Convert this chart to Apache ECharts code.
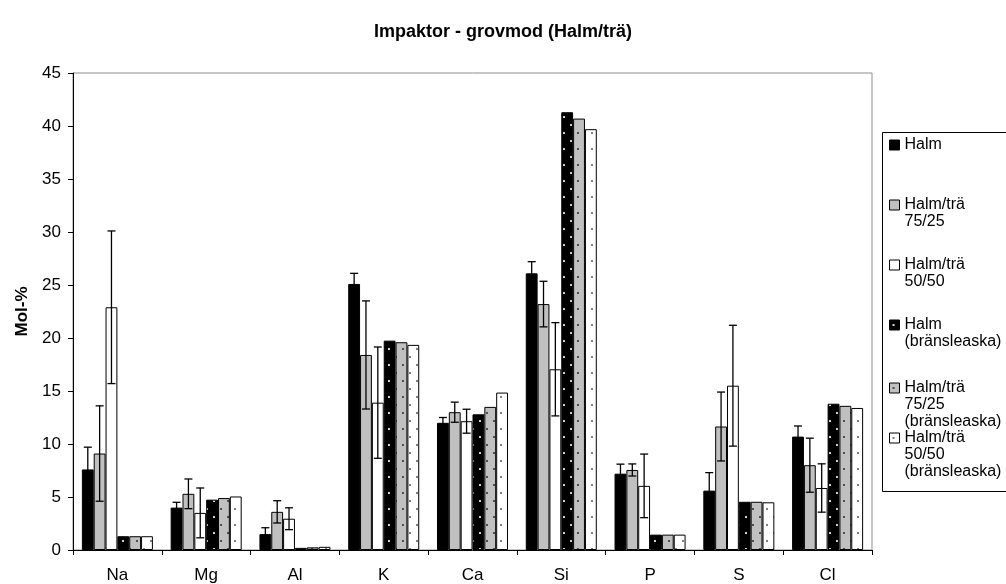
<!DOCTYPE html>
<html>
<head>
<meta charset="utf-8">
<script src="https://cdn.jsdelivr.net/npm/echarts@6/dist/echarts.min.js"></script>
<style>
html,body{margin:0;padding:0;background:#fff;}
#main{width:1006px;height:584px;}
</style>
</head>
<body>
<div id="main"></div>
<script>
// ---- data ----
var categories = ['Na', 'Mg', 'Al', 'K', 'Ca', 'Si', 'P', 'S', 'Cl'];
var seriesNames = ['Halm', 'Halm/trä\n75/25', 'Halm/trä\n50/50', 'Halm\n(bränsleaska)', 'Halm/trä\n75/25\n(bränsleaska)', 'Halm/trä\n50/50\n(bränsleaska)'];
var halm       = [7.6, 4.0, 1.5, 25.1, 12.0, 26.1, 7.2, 5.6, 10.7];
var halmErr    = [2.1, 0.5, 0.6, 1.0, 0.5, 1.1, 0.9, 1.7, 1.0];
var ht7525     = [9.1, 5.3, 3.6, 18.4, 13.0, 23.2, 7.55, 11.65, 8.0];
var ht7525Err  = [4.5, 1.4, 1.05, 5.1, 0.95, 2.15, 0.57, 3.25, 2.55];
var ht5050     = [22.9, 3.5, 2.95, 13.9, 12.15, 17.05, 6.05, 15.5, 5.85];
var ht5050Err  = [7.2, 2.35, 1.03, 5.25, 1.13, 4.4, 3.0, 5.7, 2.28];
var halmAsh    = [1.3, 4.75, 0.2, 19.75, 12.8, 41.3, 1.45, 4.55, 13.8];
var ht7525Ash  = [1.3, 4.9, 0.25, 19.6, 13.5, 40.7, 1.45, 4.55, 13.6];
var ht5050Ash  = [1.3, 5.05, 0.3, 19.35, 14.85, 39.7, 1.45, 4.5, 13.4];

var FONT = "'Liberation Sans', Arial, sans-serif";

function dotPattern(bg, dot) {
  var c = document.createElement('canvas');
  c.width = 14; c.height = 16;
  var g = c.getContext('2d');
  g.fillStyle = bg; g.fillRect(0, 0, 14, 16);
  g.fillStyle = dot;
  g.fillRect(3, 4, 2, 2);
  g.fillRect(10, 12, 2, 2);
  return { image: c, repeat: 'repeat' };
}

var colors = [
  '#000000',
  '#c0c0c0',
  '#ffffff',
  dotPattern('#000000', '#d0d0d0'),
  dotPattern('#c0c0c0', '#505050'),
  dotPattern('#ffffff', '#808080')
];
var values = [halm, ht7525, ht5050, halmAsh, ht7525Ash, ht5050Ash];
var errs = [halmErr, ht7525Err, ht5050Err];

var NBARS = 6, CATGAP = 0.2;

var series = [];
for (var i = 0; i < 6; i++) {
  series.push({
    name: seriesNames[i],
    type: 'bar',
    data: values[i],
    barGap: '0%',
    barCategoryGap: '20%',
    itemStyle: { color: colors[i], borderColor: '#000', borderWidth: 1 },
    emphasis: { disabled: true },
    z: 2
  });
}
function makeErr(si) {
  var d = [];
  for (var j = 0; j < categories.length; j++) d.push([j, values[si][j], errs[si][j]]);
  return {
    type: 'custom',
    name: 'err' + si,
    data: d,
    encode: { x: 0, y: 1 },
    z: 5,
    silent: true,
    renderItem: function (params, api) {
      var j = api.value(0), v = api.value(1), e = api.value(2);
      var c = api.coord([j, v]);
      var bw = api.size([1, 0])[0];
      var w = bw * (1 - CATGAP) / NBARS;
      var x = c[0] - bw * (1 - CATGAP) / 2 + (si + 0.5) * w;
      var yt = api.coord([j, v + e])[1];
      var yb = api.coord([j, Math.max(0, v - e)])[1];
      var cap = 4;
      var st = { stroke: '#000', lineWidth: 1.3, fill: null };
      return {
        type: 'group',
        children: [
          { type: 'line', shape: { x1: x, y1: yt, x2: x, y2: yb }, style: st },
          { type: 'line', shape: { x1: x - cap, y1: yt, x2: x + cap, y2: yt }, style: st },
          { type: 'line', shape: { x1: x - cap, y1: yb, x2: x + cap, y2: yb }, style: st }
        ]
      };
    }
  };
}
series.push(makeErr(0), makeErr(1), makeErr(2));

// legend: one component per entry, first text line aligned with icon
var L = 16.7;
var firstLineY = [145, 205, 265, 325, 388, 438];
var legends = [];
for (var k = 0; k < 6; k++) {
  (function (k) {
    var n = seriesNames[k].split('\n').length;
    legends.push({
      data: [seriesNames[k]],
      left: 889,
      top: firstLineY[k] - (2 * n - 1) * L / 2,
      padding: 0,
      itemWidth: 10,
      itemHeight: 10,
      icon: 'rect',
      selectedMode: false,
      itemStyle: { borderColor: '#000', borderWidth: 1 },
      formatter: function (name) {
        var pre = '';
        for (var q = 1; q < n; q++) pre += '\n';
        return pre + name;
      },
      textStyle: { fontFamily: FONT, fontSize: 16, color: '#000', lineHeight: L }
    });
  })(k);
}

var chart = echarts.init(document.getElementById('main'), null, { renderer: 'canvas' });
chart.setOption({
  animation: false,
  backgroundColor: '#fff',
  title: {
    text: 'Impaktor - grovmod (Halm/trä)',
    left: 'center',
    top: 23,
    padding: 0,
    textStyle: { fontFamily: FONT, fontSize: 18, fontWeight: 'bold', color: '#000' }
  },
  legend: legends,
  grid: {
    left: 73, right: 134, top: 73, bottom: 34,
    show: true, borderColor: '#8c8c8c', borderWidth: 1, backgroundColor: 'transparent'
  },
  xAxis: {
    type: 'category',
    data: categories,
    axisLine: { lineStyle: { color: '#000', width: 1 } },
    axisTick: { show: true, length: 5, lineStyle: { color: '#000' } },
    axisLabel: { fontFamily: FONT, fontSize: 17, color: '#000', margin: 17 },
    splitLine: { show: false }
  },
  yAxis: {
    type: 'value',
    min: 0, max: 45, interval: 5,
    name: 'Mol-%',
    nameLocation: 'middle',
    nameGap: 42,
    nameTextStyle: { fontFamily: FONT, fontSize: 17, fontWeight: 'bold', color: '#000' },
    axisLine: { show: true, lineStyle: { color: '#000', width: 1 } },
    axisTick: { show: true, length: 5, lineStyle: { color: '#000' } },
    axisLabel: { fontFamily: FONT, fontSize: 17, color: '#000', margin: 12 },
    splitLine: { show: false }
  },
  graphic: [{
    type: 'rect',
    shape: { x: 882.5, y: 132.5, width: 200, height: 359 },
    style: { fill: null, stroke: '#000', lineWidth: 1 },
    z: 0
  }],
  series: series
});
</script>
</body>
</html>
